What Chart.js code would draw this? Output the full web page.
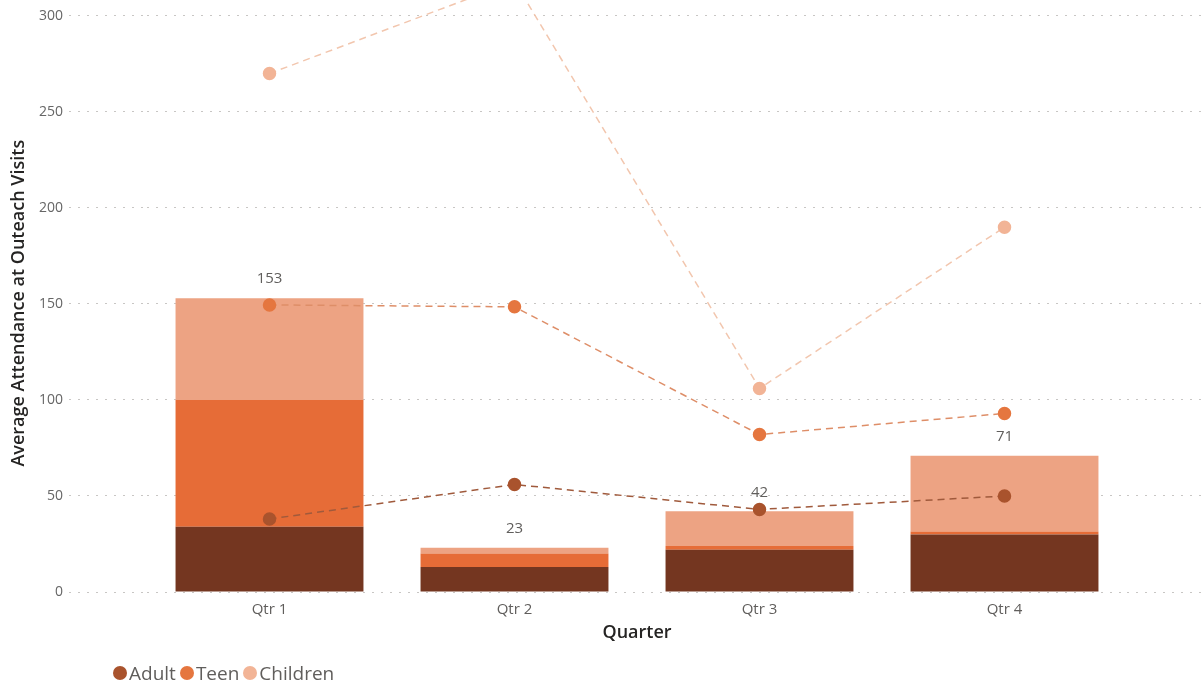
<!DOCTYPE html>
<html>
<head>
<meta charset="utf-8">
<title>Outreach attendance</title>
<script src="https://cdn.jsdelivr.net/npm/chart.js@4.4.0/dist/chart.umd.min.js"></script>
<style>
  body { margin: 0; background: #fff; }
  #wrap { position: relative; width: 1201px; height: 684px; }
  #legend { position: absolute; left: 113px; top: 661px; display: flex; font: 19px 'Open Sans', sans-serif; color: #605E5C; line-height: 24px; }
  #legend .item { display: flex; align-items: center; margin-right: 4px; }
  #legend .dot { width: 14px; height: 14px; border-radius: 50%; margin-right: 2px; }
</style>
</head>
<body>
<div id="wrap">
  <canvas id="attendance-chart" width="1201" height="684"></canvas>
  <div id="legend"></div>
</div>
<script>
var quarters = ['Qtr 1', 'Qtr 2', 'Qtr 3', 'Qtr 4'];

// stacked bars
var adultBars = [34, 13, 22, 30];
var teenBars = [66, 7, 2, 1.5];
var childrenBars = [53, 3, 18, 39.5];

// dashed lines
var adultLine = [38, 56, 43, 50];
var teenLine = [149.5, 148.5, 82, 93];
var childrenLine = [270, 318, 106, 190];

var yTicks = [0, 50, 100, 150, 200, 250, 300];

var font = "'Open Sans', sans-serif";
Chart.defaults.font.family = font;

function setTicks(scale) {
  scale.ticks = yTicks.map(function(v) { return {value: v}; });
}

function lineSet(label, values, dot, dash) {
  return {
    type: 'line',
    label: label,
    data: values,
    borderColor: dash,
    backgroundColor: dot,
    pointBackgroundColor: dot,
    pointBorderColor: dot,
    pointRadius: 6,
    pointHoverRadius: 6,
    borderWidth: 1.5,
    borderDash: [7, 5],
    tension: 0,
    clip: false,
    order: 1,
    stack: label + '-line'
  };
}

function barSet(label, values, color) {
  return {
    label: label,
    data: values,
    backgroundColor: color,
    barPercentage: 0.767,
    categoryPercentage: 1,
    order: 2,
    stack: 'bars'
  };
}

// total of each stack written above the top segment
var stackTotals = {
  id: 'stackTotals',
  afterDatasetsDraw: function(chart) {
    var c = chart.ctx;
    var top = chart.getDatasetMeta(2);
    c.save();
    c.font = '15px ' + font;
    c.fillStyle = '#605E5C';
    c.textAlign = 'center';
    c.textBaseline = 'middle';
    quarters.forEach(function(q, i) {
      var total = adultBars[i] + teenBars[i] + childrenBars[i];
      var bar = top.data[i];
      c.fillText(Math.round(total), bar.x, bar.y - 19);
    });
    c.restore();
  }
};

var ctx = document.getElementById('attendance-chart').getContext('2d');
var chart = new Chart(ctx, {
  type: 'bar',
  data: {
    labels: quarters,
    datasets: [
      barSet('Adult', adultBars, '#743620'),
      barSet('Teen', teenBars, '#E66C37'),
      barSet('Children', childrenBars, '#EDA383'),
      lineSet('Adult', adultLine, '#A9532D', '#A05A3C'),
      lineSet('Teen', teenLine, '#E5763F', '#DE8E68'),
      lineSet('Children', childrenLine, '#F2B496', '#F2C6AE')
    ]
  },
  options: {
    responsive: false,
    animation: false,
    layout: { padding: { left: 0, right: 0, top: 0, bottom: 34 } },
    plugins: {
      legend: { display: false },
      tooltip: { enabled: false }
    },
    scales: {
      x: {
        stacked: true,
        grid: { display: false, drawTicks: false },
        border: { display: false },
        ticks: { padding: 9, color: '#605E5C', font: { size: 15 } },
        title: {
          display: true,
          text: 'Quarter',
          color: '#252423',
          font: { size: 18, weight: '600' },
          padding: { top: 4, bottom: 6 }
        },
        afterFit: function(s) { s.height = 58; }
      },
      y: {
        stacked: true,
        min: 0,
        max: 300.8,
        afterBuildTicks: setTicks,
        grid: {
          color: '#C8C6C4',
          tickColor: '#C8C6C4',
          tickLength: 78,
          tickBorderDash: [2, 7]
        },
        border: { display: false, dash: [2, 7] },
        ticks: { padding: 6, color: '#666666', font: { size: 14 } },
        title: {
          display: true,
          text: 'Average Attendance at Outeach Visits',
          color: '#252423',
          font: { size: 18, weight: '600' },
          padding: { top: 8, bottom: 4 }
        },
        afterFit: function(s) { s.width = 147; }
      },
      yRight: {
        position: 'right',
        min: 0,
        max: 300.8,
        afterBuildTicks: setTicks,
        ticks: { display: false },
        grid: {
          drawOnChartArea: false,
          tickColor: '#C8C6C4',
          tickLength: 74,
          tickBorderDash: [2, 7]
        },
        border: { display: false },
        afterFit: function(s) { s.width = 74; }
      }
    }
  },
  plugins: [stackTotals]
});

// legend from the line series
var legend = document.getElementById('legend');
chart.data.datasets.forEach(function(ds) {
  if (ds.type !== 'line') return;
  var item = document.createElement('span');
  item.className = 'item';
  var dot = document.createElement('span');
  dot.className = 'dot';
  dot.style.background = ds.pointBackgroundColor;
  item.appendChild(dot);
  item.appendChild(document.createTextNode(ds.label));
  legend.appendChild(item);
});
</script>
</body>
</html>
